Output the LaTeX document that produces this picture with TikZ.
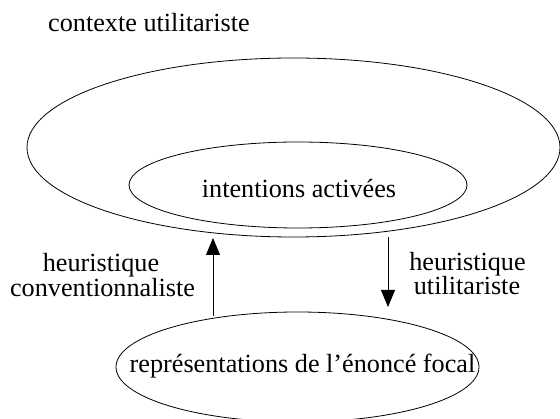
\documentclass[tikz,border=0pt]{standalone}
\usepackage{fontspec}
\setmainfont{Liberation Serif}
\usetikzlibrary{shapes.geometric, arrows.meta}

\begin{document}
\begin{tikzpicture}[x=1pt, y=-1pt,
    bulle/.style={draw, ellipse, line width=0.8pt, inner sep=0pt},
    texte/.style={font=\fontsize{26.2}{23}\selectfont, inner sep=0pt},
    fleche/.style={line width=0.8pt, -{Triangle[length=17pt, width=14pt]}}]
      \useasboundingbox (0,0) rectangle (560,419);

      % 1. contexte utilitariste
      \node[bulle, minimum width=533, minimum height=179] (contexte) at (293.5,147.5) {};
      \node[texte, anchor=base] (titre) at (149,32) {contexte utilitariste};

      % 2. intentions activées
      \node[bulle, minimum width=338, minimum height=86] (intentions) at (298,185) {};
      \node[texte, anchor=base] (intentionstxt) at (299,198) {intentions activées};

      % 3. énoncé focal
      \node[bulle, minimum width=363, minimum height=110] (focal) at (297.5,367) {};
      \node[texte, anchor=base] (focaltxt) at (302.5,373) {représentations de l’énoncé focal};

      % 4. heuristiques
      \node[texte, anchor=base] (heurg) at (101,272) {heuristique};
      \node[texte, anchor=base] (convg) at (102.5,296.5) {conventionnaliste};
      \node[texte, anchor=base] (heurd) at (467.5,270.5) {heuristique};
      \node[texte, anchor=base] (utild) at (467,295) {utilitariste};

      % 5. flèches
      \coordinate (g1) at (213,316);
      \coordinate (g2) at (213,238);
      \coordinate (d1) at (388,237);
      \coordinate (d2) at (388,307);
      \draw[fleche] (g1) -- (g2);
      \draw[fleche] (d1) -- (d2);
    \end{tikzpicture}
\end{document}
